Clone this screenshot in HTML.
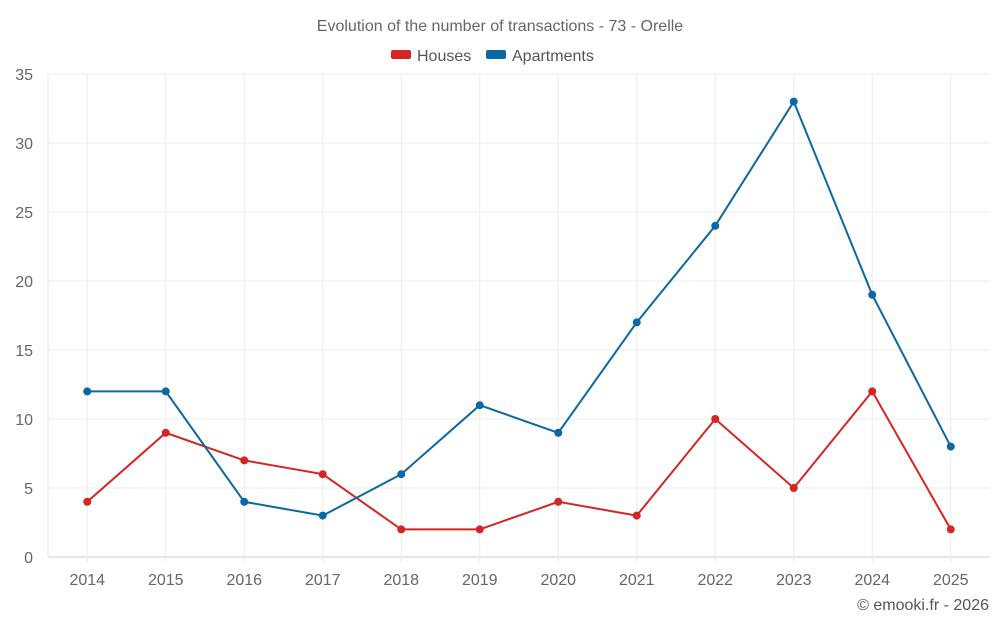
<!DOCTYPE html>
<html><head><meta charset="utf-8"><style>
body{margin:0;background:#fff;font-family:"Liberation Sans",sans-serif;}
svg text{font-family:"Liberation Sans",sans-serif;}
</style></head><body>
<svg id="chart" width="1000" height="625" viewBox="0 0 1000 625">
<text x="500" y="31" text-anchor="middle" font-size="16" fill="#666">Evolution of the number of transactions - 73 - Orelle</text>
<g>
<g><rect x="391" y="50" width="20" height="9" rx="2" fill="#d62424"/><text x="417" y="61" font-size="16" fill="#555">Houses</text></g>
<g><rect x="486" y="50" width="20" height="9" rx="2" fill="#0b68a3"/><text x="512" y="61" font-size="16" fill="#555">Apartments</text></g>
</g>
<g id="grid"></g>
<g id="axes"></g>
<g id="series"></g>
<text x="989" y="610" text-anchor="end" font-size="16" fill="#555">© emooki.fr - 2026</text>
</svg>
<script>
const years=["2014","2015","2016","2017","2018","2019","2020","2021","2022","2023","2024","2025"];
const houses=[4,9,7,6,2,2,4,3,10,5,12,2];
const apartments=[12,12,4,3,6,11,9,17,24,33,19,8];
const yTicks=[0,5,10,15,20,25,30,35];
const NS="http://www.w3.org/2000/svg";
const L=48,R=990,T=74,B=557,yMax=35;
const band=(R-L)/years.length;
const x=i=>L+band*(i+0.5);
const y=v=>B-(v/yMax)*(B-T);
function mk(tag,attrs,parent){const e=document.createElementNS(NS,tag);for(const k in attrs)e.setAttribute(k,attrs[k]);parent.appendChild(e);return e;}
const grid=document.getElementById('grid'),axes=document.getElementById('axes'),series=document.getElementById('series');
yTicks.forEach(t=>{
  const ln=mk('line',{x1:L,x2:R,y1:y(t),y2:y(t),stroke:t===0?'#ccc':'#eee','stroke-width':1},grid);
  
  
  const tx=mk('text',{x:L-15,y:y(t)+6,'text-anchor':'end','font-size':16,fill:'#666'},axes);
  tx.textContent=t;
  
  
});
const la=mk('line',{x1:L,x2:L,y1:T,y2:B,stroke:'#e6e6e6','stroke-width':1},grid);


years.forEach((yr,i)=>{
  const ln=mk('line',{x1:x(i),x2:x(i),y1:T,y2:B+5,stroke:'#ebebeb','stroke-width':1},grid);
  
  
  const tx=mk('text',{x:x(i),y:B+28,'text-anchor':'middle','font-size':16,fill:'#666'},axes);
  tx.textContent=yr;
  
  
});
function drawSeries(data,color,name){
  const g=mk('g',{},series);
  
  
  const p=mk('polyline',{points:data.map((v,i)=>x(i)+','+y(v)).join(' '),fill:'none',stroke:color,'stroke-width':2},g);
  
  
  data.forEach((v,i)=>{
    const c=mk('circle',{cx:x(i),cy:y(v),r:4,fill:color},g);
    
    
  });
}
drawSeries(houses,'#d62424','houses');
drawSeries(apartments,'#0b68a3','apartments');
</script>
</body></html>
